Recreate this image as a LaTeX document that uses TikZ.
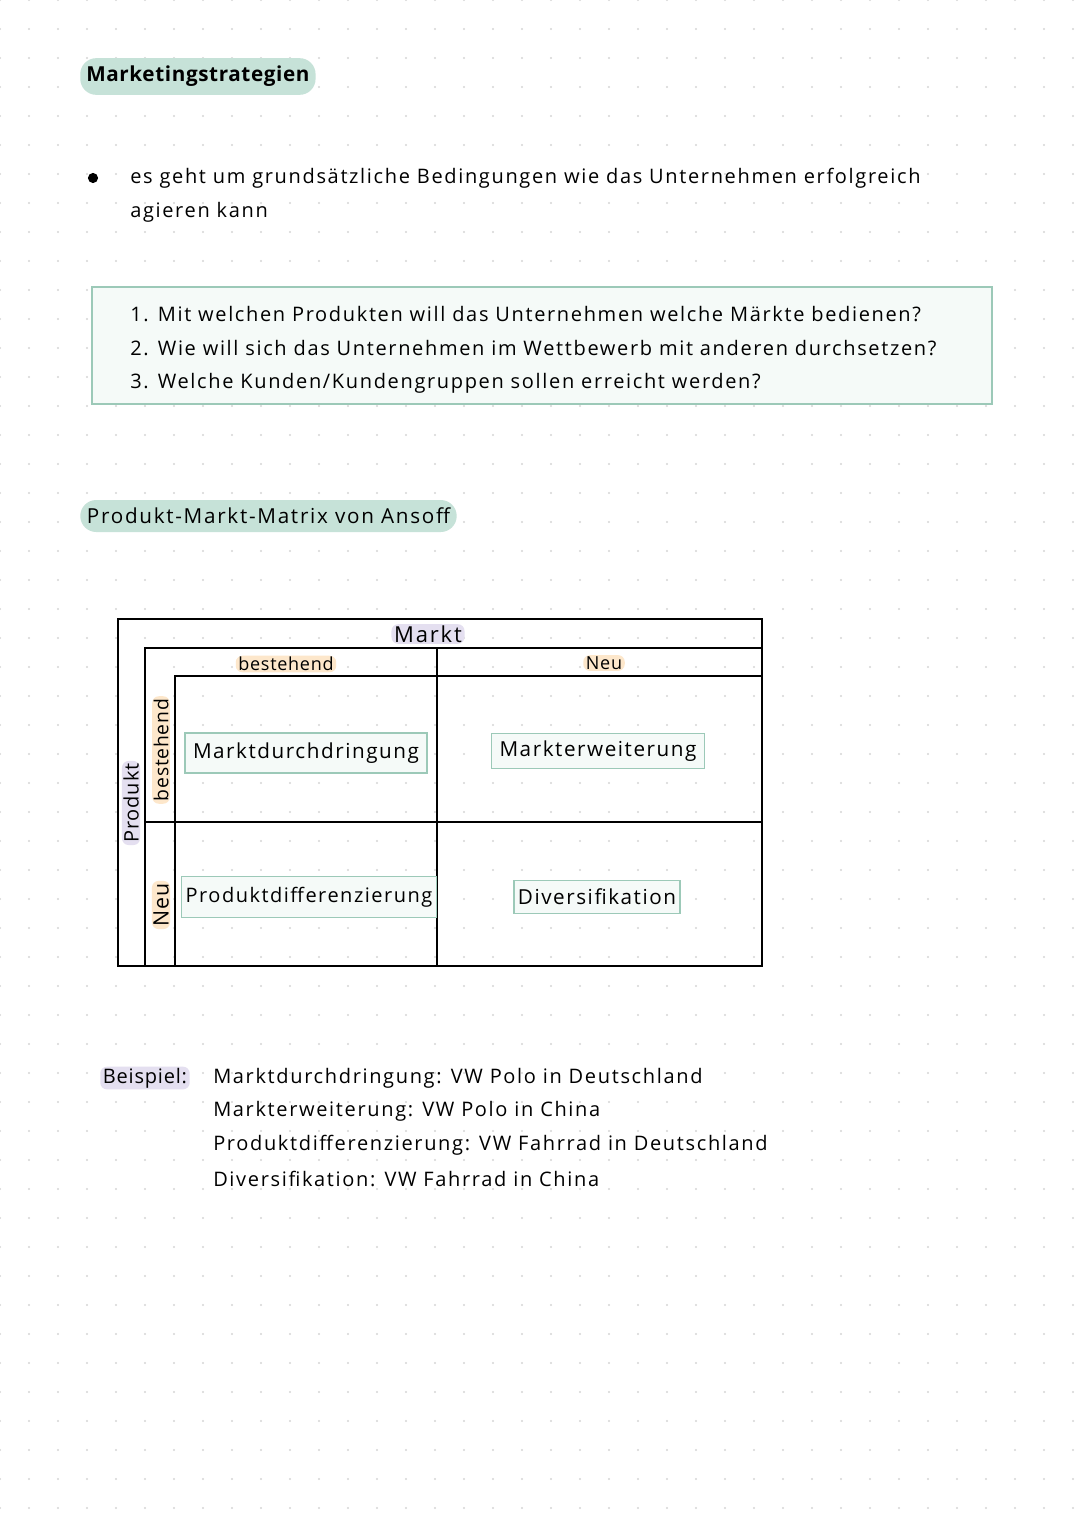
\documentclass[tikz,border=0pt]{standalone}
\usepackage{fontspec}
\setmainfont{Open Sans}[LetterSpace=8.3]
\newfontfamily\titlefont{Open Sans}[LetterSpace=3]
\newfontfamily\lblfont{Open Sans}[LetterSpace=4]
\newfontfamily\cellfont{Open Sans}[LetterSpace=7.5]
\definecolor{dotc}{HTML}{D6D6D6}
\definecolor{pillc}{HTML}{C6E2D8}
\definecolor{boxc}{HTML}{9CC9B8}
\definecolor{boxfill}{HTML}{F5FAF8}
\definecolor{purp}{HTML}{E4DFF0}
\definecolor{oran}{HTML}{FDE7CB}
\begin{document}
\begin{tikzpicture}[x=0.75pt,y=-0.75pt,
  body/.style={font=\fontsize{15}{18}\selectfont, inner sep=0pt, anchor=west},
  pill/.style={fill=pillc, rounded corners=12pt, inner xsep=4.5pt, minimum height=27.5pt, anchor=west},
  hlp/.style={fill=purp, rounded corners=5pt, inner xsep=2pt, inner ysep=1pt},
  hlo/.style={fill=oran, rounded corners=5pt, inner xsep=2pt, inner ysep=1pt},
  cellbox/.style={draw=boxc, fill=boxfill, line width=1.2pt, inner xsep=6pt, inner ysep=3pt, font=\cellfont\fontsize{15.5}{18}\selectfont},
  grid/.style={line width=1.4pt, black}
]
\useasboundingbox (0,0) rectangle (1080,1527);
\fill[white] (0,0) rectangle (1080,1527);
\foreach \i in {0,...,37} \foreach \j in {0,...,52} \fill[dotc] (\i*29,\j*29) circle (0.8pt);

% title
\node[pill, font=\titlefont\bfseries\fontsize{15.5}{18}\selectfont] (title) at (80,76.5) {Marketingstrategien};

% bullet
\fill (93,178) circle (3.8pt);
\node[body] (b1) at (130,178) {es geht um grundsätzliche Bedingungen wie das Unternehmen erfolgreich};
\node[body] (b2) at (130,212) {agieren kann};

% question box
\draw[draw=boxc, fill=boxfill, line width=1.2pt] (92,287) rectangle (992,404);
\node[body] (q1) at (130,314) {1. Mit welchen Produkten will das Unternehmen welche Märkte bedienen?};
\node[body] (q2) at (130,348) {2. Wie will sich das Unternehmen im Wettbewerb mit anderen durchsetzen?};
\node[body] (q3) at (130,383) {3. Welche Kunden/Kundengruppen sollen erreicht werden?};

% subtitle
\node[pill, font=\fontsize{15.5}{18}\selectfont, inner xsep=5pt, minimum height=24pt] (sub) at (80,516) {Produkt-Markt-Matrix von Ansoff};

% matrix frame
\draw[grid] (118,619) rectangle (762,966);
\draw[grid] (145,648) rectangle (762,966);
\draw[grid] (175,676) rectangle (762,966);
\draw[grid] (437,648) -- (437,966);
\draw[grid] (145,822) -- (762,822);

\node[hlp, font=\fontsize{16.5}{18}\selectfont] (markt) at (428,634) {Markt};
\node[hlo, font=\lblfont\fontsize{13.5}{16}\selectfont] (mbest) at (286,664) {bestehend};
\node[hlo, font=\lblfont\fontsize{13.5}{16}\selectfont] (mneu) at (604,663) {Neu};
\node[hlp, font=\lblfont\fontsize{15}{16}\selectfont, rotate=90] (prod) at (131,803) {Produkt};
\node[hlo, font=\lblfont\fontsize{14.5}{16}\selectfont, rotate=90] (pbest) at (161,750) {bestehend};
\node[hlo, font=\lblfont\fontsize{16}{16}\selectfont, rotate=90] (pneu) at (161,905) {Neu};

\node[cellbox, minimum height=30pt] (c1) at (306,753) {Marktdurchdringung};
\node[cellbox, minimum height=26pt] (c2) at (598,751) {Markterweiterung};
\node[cellbox, minimum height=30.5pt, inner xsep=3pt, font=\cellfont\fontsize{15}{18}\selectfont] (c3) at (309,897) {Produktdifferenzierung};
\node[cellbox, minimum height=25pt, inner xsep=3pt] (c4) at (597,897) {Diversifikation};

% example
\node[hlp, font=\lblfont\fontsize{15}{18}\selectfont, anchor=west] (bsp) at (100,1078) {Beispiel:};
\node[body] (e1) at (213,1078) {Marktdurchdringung: VW Polo in Deutschland};
\node[body] (e2) at (213,1111) {Markterweiterung: VW Polo in China};
\node[body] (e3) at (213,1145) {Produktdifferenzierung: VW Fahrrad in Deutschland};
\node[body] (e4) at (213,1179) {Diversifikation: VW Fahrrad in China};
\end{tikzpicture}
\end{document}
